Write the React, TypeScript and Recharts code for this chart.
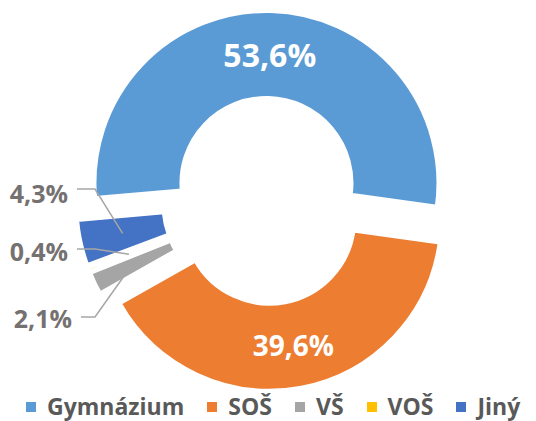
import { PieChart, Pie, Cell, Legend } from "recharts";

document.body.style.margin = "0";

const categories = ["Gymnázium", "SOŠ", "VŠ", "VOŠ", "Jiný"];
const shares = [53.6, 39.6, 2.1, 0.4, 4.3];
const colors = ["#5B9BD5", "#ED7D31", "#A5A5A5", "#FFC000", "#4472C4"];

const data = categories.map((name, i) => ({ name, value: shares[i] }));

const W = 536;
const H = 421;
const CX = 266;
const CY = 201;
const OUTER = 172;
const INNER = 85;
const START = 185;
const EXPLODE = 18;
const RAD = Math.PI / 180;
const FONT = "'Open Sans', sans-serif";

// mid angle of every slice, used to push each slice out from the centre
const total = shares.reduce((a, b) => a + b, 0);
const mids = shares.map((v, i) => {
  const before = shares.slice(0, i).reduce((a, b) => a + b, 0);
  return START - (360 * (before + v / 2)) / total;
});

// small slices get their label on the left with a leader line
const outside: Record<number, { textX: number; textY: number; lineY: number; r: number; da: number }> = {
  2: { textX: 72, textY: 318, lineY: 317, r: 142, da: 2.3 },
  3: { textX: 68, textY: 251, lineY: 249, r: 129, da: 0 },
  4: { textX: 68, textY: 193, lineY: 189, r: 129, da: 0 },
};
const insideFont = [32, 28];

const fmt = (v: number) => `${v.toFixed(1).replace(".", ",")}%`;

const renderLabel = (j: number) => (p: any) => {
  if (p.index !== j) return null;
  const text = fmt(p.value);
  if (j < 2) {
    const r = (p.innerRadius + p.outerRadius) / 2;
    const x = p.cx + r * Math.cos(p.midAngle * RAD);
    const y = p.cy - r * Math.sin(p.midAngle * RAD);
    return (
      <text x={x} y={y} fill="#fff" fontSize={insideFont[j]} fontWeight={700} fontFamily={FONT}
        textAnchor="middle" dominantBaseline="central">
        {text}
      </text>
    );
  }
  const o = outside[j];
  if (!o) return null;
  const a = (p.midAngle + o.da) * RAD;
  const ax = p.cx + o.r * Math.cos(a);
  const ay = p.cy - o.r * Math.sin(a);
  return (
    <g>
      <polyline points={`${o.textX + 9},${o.lineY} 95,${o.lineY} ${ax},${ay}`}
        fill="none" stroke="#A6A6A6" strokeWidth={1.5} />
      <text x={o.textX} y={o.textY} fill="#767171" fontSize={25} fontWeight={700} fontFamily={FONT}
        textAnchor="end" dominantBaseline="central">
        {text}
      </text>
    </g>
  );
};

const renderLegend = () => (
  <div style={{ display: "flex", alignItems: "center", height: 31, paddingLeft: 26, fontFamily: FONT }}>
    {categories.map((c, i) => (
      <div key={c} style={{ display: "flex", alignItems: "center", marginRight: 23 }}>
        <span style={{ width: 10, height: 10, background: colors[i], marginRight: 11, marginTop: 3 }} />
        <span style={{ fontSize: 23, fontWeight: 700, color: "#595959" }}>{c}</span>
      </div>
    ))}
  </div>
);

export default function App() {
  return (
    <PieChart width={W} height={H} margin={{ top: 0, right: 0, bottom: 0, left: 0 }}>
      {categories.map((c, j) => (
        <Pie
          key={c}
          data={data}
          dataKey="value"
          nameKey="name"
          cx={CX + EXPLODE * Math.cos(mids[j] * RAD)}
          cy={CY - EXPLODE * Math.sin(mids[j] * RAD)}
          innerRadius={INNER}
          outerRadius={OUTER}
          startAngle={START}
          endAngle={START - 360}
          isAnimationActive={false}
          label={renderLabel(j)}
          labelLine={false}
          legendType="none"
        >
          {data.map((d, i) => (
            <Cell key={d.name} fill={i === j ? colors[i] : "none"} stroke={i === j ? "#fff" : "none"} strokeWidth={4} />
          ))}
        </Pie>
      ))}
      <Legend verticalAlign="bottom" content={renderLegend} wrapperStyle={{ left: 0, top: 390, bottom: "auto", width: W, height: 31 }} />
    </PieChart>
  );
}
